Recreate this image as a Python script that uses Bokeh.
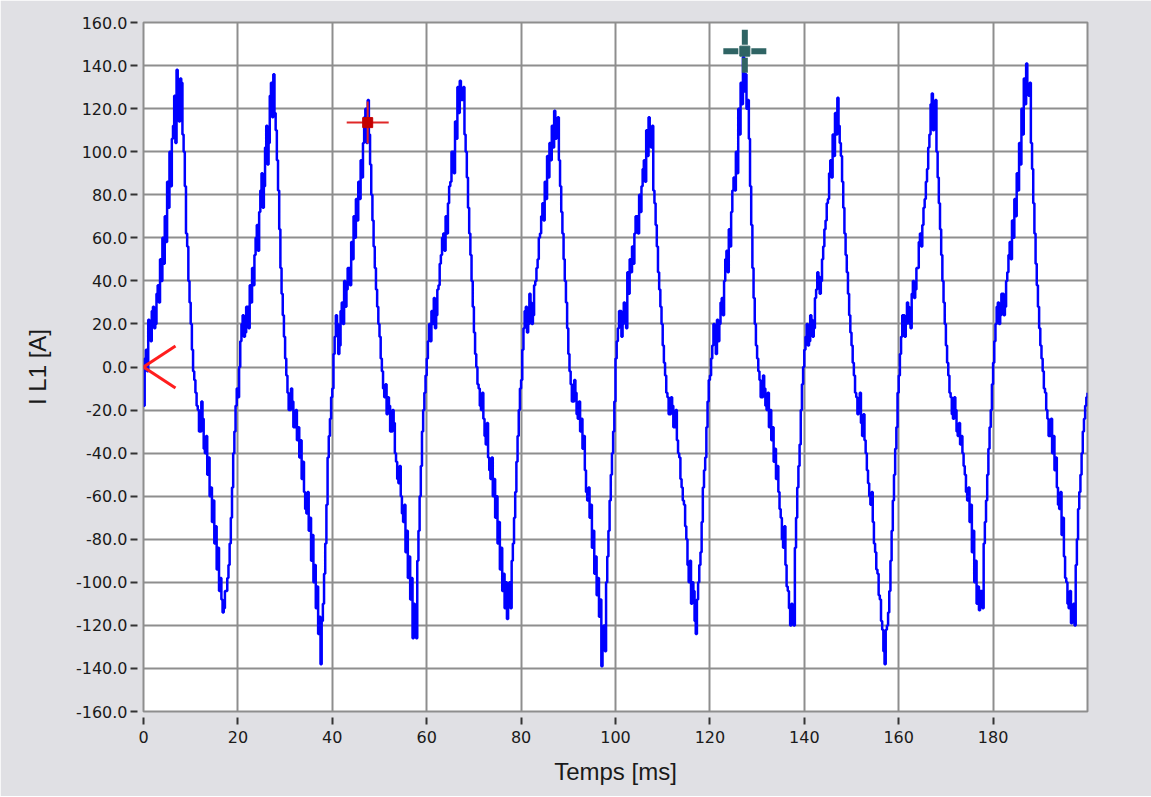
import numpy as np
from bokeh.plotting import figure
from bokeh.models import Range1d, FixedTicker, NumeralTickFormatter
from bokeh.embed import file_html
from bokeh.resources import INLINE

# ---- data: current I L1 [A], one list per 20 ms period,
# ---- sampled every 0.25 ms
sample_interval_ms = 0.25
period_ms = 20.0
period_0 = [-18, 4, 8, -2, 22, 14, 12, 26, 28, 18, 20, 34, 38, 30, 50, 40, 60, 48, 70, 58,
            86, 74, 100, 84, 106, 112, 126, 104, 138, 116, 114, 134, 132, 108, 100, 84, 62, 56, 40, 30,
            20, 8, -2, -6, -12, -18, -20, -30, -30, -16, -24, -38, -40, -32, -50, -42, -60, -56, -72, -62,
            -82, -74, -94, -84, -104, -98, -108, -114, -112, -104, -104, -98, -92, -82, -70, -56, -40, -30, -18, -10]
period_1 = [-14, 0, 12, 20, 24, 14, 16, 28, 28, 18, 38, 30, 46, 38, 52, 60, 66, 54, 72, 82,
            90, 74, 84, 102, 112, 94, 104, 126, 132, 116, 136, 118, 110, 96, 82, 64, 46, 34, 24, 14,
            4, -4, -12, -20, -20, -10, -16, -28, -28, -20, -34, -28, -42, -34, -52, -44, -58, -66, -68, -58,
            -76, -70, -90, -78, -100, -92, -112, -102, -124, -116, -138, -118, -110, -96, -82, -64, -42, -32, -24, -14]
period_2 = [-10, 6, 14, 24, 20, 6, 10, 26, 30, 20, 40, 28, 36, 46, 46, 38, 58, 50, 70, 60,
            78, 68, 86, 78, 96, 88, 104, 116, 120, 104, 124, 108, 94, 80, 68, 56, 46, 36, 28, 20,
            14, 4, -2, -10, -14, -8, -22, -14, -18, -30, -30, -20, -26, -40, -44, -52, -54, -46, -60, -68,
            -72, -64, -86, -76, -98, -88, -108, -98, -126, -110, -118, -126, -90, -76, -60, -46, -30, -20, -12, -4]
period_3 = [4, 12, 20, 12, 26, 20, 32, 18, 24, 36, 38, 48, 52, 60, 62, 54, 70, 62, 76, 84,
            86, 100, 100, 90, 114, 106, 130, 118, 133, 124, 124, 130, 108, 100, 88, 74, 62, 52, 40, 28,
            16, 6, 0, -8, -10, -18, -20, -12, -24, -32, -36, -26, -42, -48, -52, -42, -60, -52, -70, -60,
            -82, -72, -94, -84, -104, -96, -112, -100, -117, -106, -100, -112, -90, -82, -70, -58, -44, -32, -20, -10]
period_4 = [-6, 8, 18, 26, 28, 16, 20, 34, 30, 20, 24, 38, 40, 46, 50, 60, 62, 70, 76, 68,
            86, 78, 98, 88, 104, 96, 112, 102, 119, 106, 110, 116, 96, 84, 72, 62, 50, 40, 30, 18,
            6, -2, -8, -16, -16, -6, -12, -22, -24, -16, -30, -24, -38, -32, -48, -58, -62, -56, -70, -64,
            -84, -76, -96, -88, -106, -98, -116, -108, -139, -122, -120, -132, -100, -88, -76, -62, -50, -40, -30, -16]
period_5 = [4, 12, 18, 26, 26, 14, 20, 30, 28, 18, 44, 34, 50, 44, 56, 48, 62, 70, 70, 62,
            80, 72, 84, 92, 96, 86, 110, 98, 116, 104, 102, 112, 82, 76, 66, 56, 44, 36, 28, 20,
            10, 2, -4, -12, -14, -22, -22, -14, -18, -28, -28, -20, -34, -40, -42, -52, -56, -62, -64, -74,
            -80, -92, -100, -90, -110, -100, -104, -118, -124, -108, -100, -92, -86, -72, -56, -48, -42, -28, -16, -6]
period_6 = [-4, 4, 10, 20, 16, 6, 22, 12, 20, 30, 32, 24, 40, 50, 54, 44, 64, 56, 72, 82,
            88, 82, 100, 90, 120, 108, 132, 122, 144, 128, 136, 120, 124, 106, 84, 66, 46, 32, 20, 10,
            4, -2, -6, -14, -14, -4, -10, -18, -20, -12, -28, -20, -34, -28, -44, -38, -52, -46, -58, -66,
            -70, -80, -84, -74, -92, -102, -104, -112, -120, -110, -114, -120, -84, -70, -56, -46, -36, -20, -8, 0]
period_7 = [8, 14, 20, 10, 12, 24, 22, 14, 18, 32, 36, 44, 42, 34, 40, 50, 56, 64, 68, 76,
            78, 90, 96, 88, 108, 98, 118, 108, 125, 112, 104, 98, 86, 74, 62, 52, 44, 34, 24, 16,
            10, 2, -4, -12, -14, -22, -20, -12, -26, -32, -22, -34, -40, -48, -54, -60, -64, -58, -72, -82,
            -86, -94, -96, -106, -108, -118, -122, -132, -138, -122, -120, -114, -104, -90, -76, -62, -50, -38, -28, -12]
period_8 = [-4, 6, 14, 24, 24, 14, 20, 30, 28, 20, 18, 34, 40, 32, 36, 46, 46, 58, 62, 56,
            66, 74, 78, 86, 92, 102, 108, 122, 127, 110, 116, 124, 100, 88, 76, 64, 52, 40, 30, 20,
            10, 2, -4, -12, -14, -22, -24, -14, -20, -30, -32, -26, -36, -32, -40, -46, -50, -58, -62, -56,
            -72, -64, -86, -76, -100, -90, -110, -102, -113, -104, -104, -112, -82, -72, -62, -50, -38, -28, -20, -8]
period_9 = [2, 12, 20, 28, 30, 20, 24, 34, 34, 24, 28, 40, 44, 52, 58, 50, 68, 60, 78, 70,
            90, 82, 104, 94, 120, 108, 134, 122, 141, 128, 126, 132, 104, 92, 76, 62, 48, 38, 28, 18,
            10, 4, -2, -10, -12, -20, -24, -32, -32, -24, -40, -32, -48, -42, -56, -64, -66, -58, -78, -70,
            -88, -98, -100, -110, -112, -104, -119, -112, -110, -120, -92, -80, -66, -58, -50, -40, -30, -24, -18, -14,
            -12]
periods = [period_0, period_1, period_2, period_3, period_4,
           period_5, period_6, period_7, period_8, period_9]

x_ticks = [0, 20, 40, 60, 80, 100, 120, 140, 160, 180]
y_ticks = [-160, -140, -120, -100, -80, -60, -40, -20, 0, 20, 40, 60, 80, 100, 120, 140, 160]

# cursors (time ms, current A)
trigger_t, trigger_v = [0.0], [0.0]
cursor1_t, cursor1_v = [47.5], [113.5]
cursor2_t, cursor2_v = [127.4], [146.7]

time_ms = np.concatenate([k * period_ms + np.arange(len(v)) * sample_interval_ms
                          for k, v in enumerate(periods)])
current = np.concatenate([np.array(v, dtype=float) for v in periods])

GRAY_BG = "#e0e0e4"
GRID = "#8e8e8e"
TXT = "#1a1a1a"

p = figure(width=1151, height=796, output_backend="svg", toolbar_location=None,
           x_range=Range1d(0, 200), y_range=Range1d(-160, 160),
           min_border_left=143, min_border_top=22, min_border_right=64, min_border_bottom=85)
p.background_fill_color = "white"
p.border_fill_color = GRAY_BG
p.outline_line_color = GRID
p.outline_line_width = 2

for ax in (p.xaxis[0], p.yaxis[0]):
    ax.axis_line_color = None
    ax.major_tick_in = -6
    ax.major_tick_out = 13
    ax.major_tick_line_color = "#333333"
    ax.major_tick_line_width = 2
    ax.minor_tick_line_color = None
    ax.major_label_text_font = "DejaVu Sans"
    ax.major_label_text_font_size = "16px"
    ax.major_label_text_color = TXT
    ax.axis_label_text_font = "Liberation Sans"
    ax.axis_label_text_font_size = "24px"
    ax.axis_label_text_font_style = "normal"
    ax.axis_label_text_color = TXT

p.xaxis.ticker = FixedTicker(ticks=x_ticks)
p.yaxis.ticker = FixedTicker(ticks=y_ticks)
p.yaxis.formatter = NumeralTickFormatter(format="0.0")
p.xaxis.axis_label = "Temps [ms]"
p.yaxis.axis_label = "I L1 [A]"
p.xaxis.major_label_standoff = 6
p.yaxis.major_label_standoff = 3
p.xaxis.axis_label_standoff = 12
p.yaxis.axis_label_standoff = 22

p.xgrid.ticker = FixedTicker(ticks=x_ticks)
p.ygrid.ticker = FixedTicker(ticks=y_ticks)
for g in (p.xgrid[0], p.ygrid[0]):
    g.grid_line_color = GRID
    g.grid_line_width = 2

# waveform
p.step(time_ms, current, mode="after", line_color="#0000ff", line_width=2.5)

# trigger marker "<" at (0, 0)
px_per_ms = (1087 - 143) / 200.0
px_per_a = (711 - 22) / 320.0
arm_dx = 32 / px_per_ms
arm_dy = 21 / px_per_a
tt = np.array(trigger_t)
tv = np.array(trigger_v)
p.segment(x0=np.concatenate([tt, tt]), y0=np.concatenate([tv, tv]),
          x1=np.concatenate([tt + arm_dx, tt + arm_dx]), y1=np.concatenate([tv + arm_dy, tv - arm_dy]),
          line_color="#ff1e1e", line_width=3)

# cursor 1 (red)
p.scatter(cursor1_t, cursor1_v, marker="cross", size=42, line_color="#e02828", line_width=2)
p.scatter(cursor1_t, cursor1_v, marker="square", size=10, fill_color="#c40000", line_color="#c40000")

# cursor 2 (dark teal)
p.scatter(cursor2_t, cursor2_v, marker="cross", size=43, line_color="#2f6464", line_width=6,
          line_dash="15 2 9 2 15")
p.scatter(cursor2_t, cursor2_v, marker="square", size=10, fill_color="#2f6464", line_color="#2f6464")

open("out.html", "w").write(file_html(p, INLINE))
